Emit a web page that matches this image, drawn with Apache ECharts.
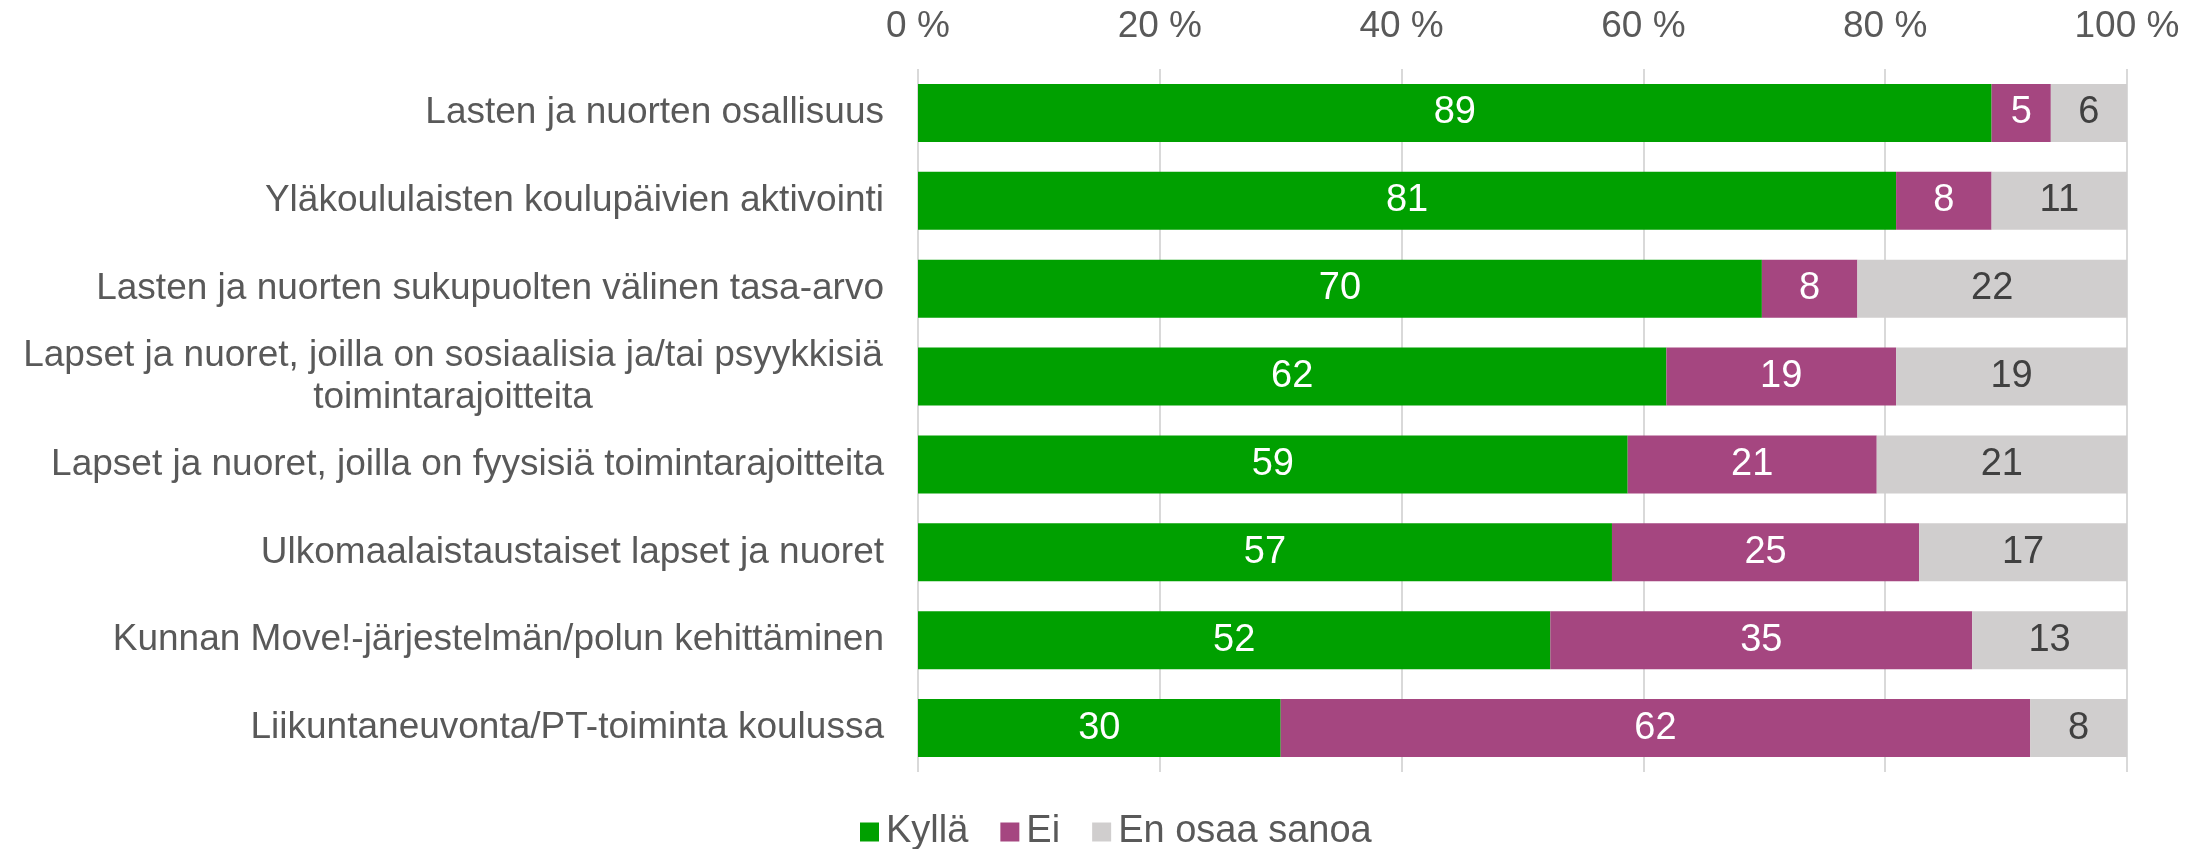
<!DOCTYPE html>
<html>
<head>
<meta charset="utf-8">
<title>Kyllä / Ei / En osaa sanoa</title>
<script src="https://cdn.jsdelivr.net/npm/echarts@6/dist/echarts.min.js"></script>
<style>
  html, body { margin: 0; padding: 0; background: #fff; }
  #chart { width: 2204px; height: 849px; }
</style>
</head>
<body>
<div id="chart"></div>
<script>
// kategoriat ylhäältä alas
const categories = [
  "Lasten ja nuorten osallisuus",
  "Yläkoululaisten koulupäivien aktivointi",
  "Lasten ja nuorten sukupuolten välinen tasa-arvo",
  "Lapset ja nuoret, joilla on sosiaalisia ja/tai psyykkisiä\ntoimintarajoitteita",
  "Lapset ja nuoret, joilla on fyysisiä toimintarajoitteita",
  "Ulkomaalaistaustaiset lapset ja nuoret",
  "Kunnan Move!-järjestelmän/polun kehittäminen",
  "Liikuntaneuvonta/PT-toiminta koulussa"
];
// osuudet prosentteina (luettu kuvasta)
const kylla = [88.8, 80.9, 69.8, 61.9, 58.7, 57.4, 52.3, 30.0];
const ei = [4.9, 7.9, 7.9, 19.0, 20.6, 25.4, 34.9, 62.0];
const eos = [6.3, 11.2, 22.3, 19.1, 20.7, 17.2, 12.8, 8.0];
const seriesNames = ["Kyllä", "Ei", "En osaa sanoa"];
const xTicks = [0, 20, 40, 60, 80, 100];

const FONT = "'Liberation Sans', Arial, sans-serif";
const chart = echarts.init(document.getElementById("chart"));

function barSeries(name, data, color, labelColor) {
  return {
    name: name,
    type: "bar",
    stack: "total",
    data: data,
    barWidth: 58,
    itemStyle: { color: color },
    label: {
      show: true,
      position: "inside",
      color: labelColor,
      fontFamily: FONT,
      fontSize: 38,
      formatter: (p) => Math.round(p.value)
    }
  };
}

const option = {
  backgroundColor: "#fff",
  animation: false,
  grid: { left: 918, right: 77, top: 69, bottom: 77 },
  xAxis: {
    type: "value",
    position: "top",
    min: xTicks[0],
    max: xTicks[xTicks.length - 1],
    interval: 20,
    axisLine: { show: false },
    axisTick: { show: false },
    splitLine: { lineStyle: { color: "#d9d9d9", width: 2 } },
    axisLabel: {
      margin: 24,
      color: "#595959",
      fontFamily: FONT,
      fontSize: 37,
      formatter: "{value} %"
    }
  },
  yAxis: {
    type: "category",
    inverse: true,
    data: categories,
    axisLine: { show: false },
    axisTick: { show: false },
    axisLabel: {
      margin: 34,
      color: "#595959",
      fontFamily: FONT,
      fontSize: 37,
      lineHeight: 42,
      // kaksirivinen otsikko keskitetään
      formatter: (v) => {
        if (v.indexOf("\n") < 0) return v;
        return v.split("\n").map((s) => "{c|" + s + "}").join("\n");
      },
      rich: {
        c: {
          width: 862,
          align: "center",
          color: "#595959",
          fontFamily: FONT,
          fontSize: 37,
          lineHeight: 42
        }
      }
    }
  },
  legend: {
    left: 855,
    top: 808,
    icon: "rect",
    itemWidth: 19,
    itemHeight: 19,
    itemGap: 32,
    data: seriesNames,
    textStyle: {
      color: "#595959",
      fontFamily: FONT,
      fontSize: 38,
      padding: [0, 0, 0, 2]
    }
  },
  series: [
    barSeries(seriesNames[0], kylla, "#00a000", "#ffffff"),
    barSeries(seriesNames[1], ei, "#a54680", "#ffffff"),
    barSeries(seriesNames[2], eos, "#d0cece", "#404040")
  ]
};

chart.setOption(option);
</script>
</body>
</html>
